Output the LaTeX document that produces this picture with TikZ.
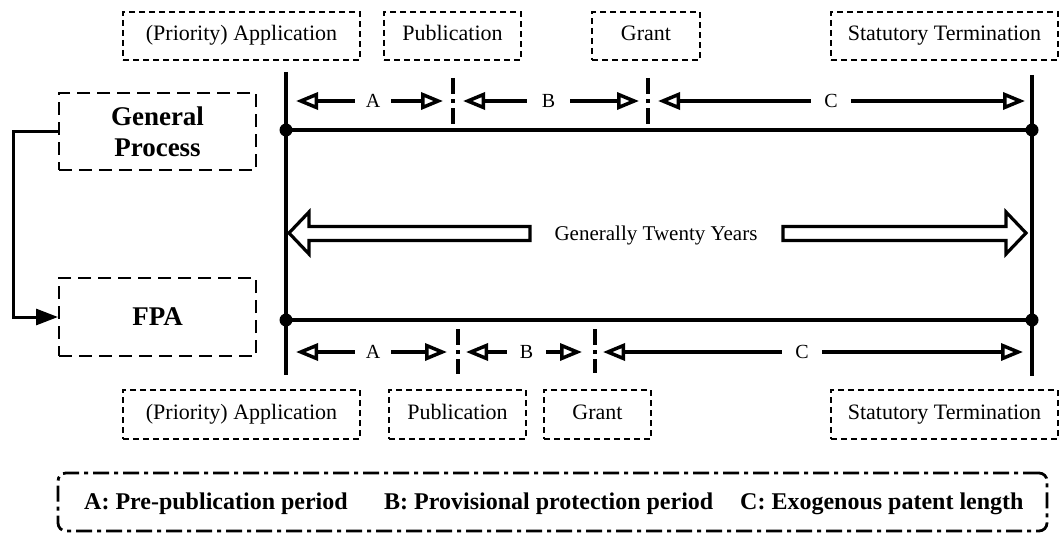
\documentclass[tikz,border=0pt]{standalone}
\usepackage{fontspec}
\setmainfont{Liberation Serif}
\usetikzlibrary{arrows.meta}
\begin{document}
\begin{tikzpicture}[x=1pt,y=-1pt,
  evbox/.style={draw, line width=1.8pt, dash pattern=on 6pt off 4pt, inner sep=0pt, minimum height=48pt, text height=15pt, text depth=5pt, font=\fontsize{22}{26}\selectfont},
  procbox/.style={draw, line width=2pt, dash pattern=on 13pt off 7pt, inner sep=0pt, align=center, minimum width=197pt, font=\bfseries\fontsize{27}{33}\selectfont},
  mainline/.style={line width=3.5pt},
  sepline/.style={line width=3.5pt, dash pattern=on 16pt off 5pt on 4pt off 5pt},
  dimarrow/.style={line width=3.2pt, {Triangle[open,length=22pt,width=17pt,line width=3.5pt]}-{Triangle[open,length=22pt,width=17pt,line width=3.5pt]}},
  dimlabel/.style={fill=white, inner sep=0pt, minimum height=14pt, font=\fontsize{20}{24}\selectfont},
  bigarrow/.style={line width=3.2pt, fill=white, line join=miter},
  dot/.style={circle, fill=black, inner sep=0pt, minimum size=13pt},
  legendbox/.style={draw, line width=2.8pt, dash pattern=on 16pt off 5pt on 4pt off 5pt, rounded corners=8pt, minimum width=989pt, minimum height=58pt, inner sep=0pt},
  legendtext/.style={font=\bfseries\fontsize{24}{28}\selectfont, anchor=west, inner sep=0pt}
]
\useasboundingbox (0,0) rectangle (1060,535);

% top event boxes
\node[evbox, minimum width=237pt] (tApp) at (241.5,36) {(Priority) Application};
\node[evbox, minimum width=137pt] (tPub) at (452.5,36) {Publication};
\node[evbox, minimum width=108pt] (tGrant) at (646,36) {Grant};
\node[evbox, minimum width=227pt] (tStat) at (944.5,36) {Statutory Termination};

% bottom event boxes
\node[evbox, minimum width=237pt, minimum height=49pt] (bApp) at (241.5,414.5) {(Priority) Application};
\node[evbox, minimum width=137pt, minimum height=49pt] (bPub) at (457.5,414.5) {Publication};
\node[evbox, minimum width=107pt, minimum height=49pt] (bGrant) at (597.5,414.5) {Grant};
\node[evbox, minimum width=227pt, minimum height=49pt] (bStat) at (944.5,414.5) {Statutory Termination};

% process boxes
\node[procbox, minimum height=77pt] (gp) at (157.5,131.5) {General\\[-2pt]Process};
\node[procbox, minimum height=78pt] (fpa) at (157.5,317) {FPA};
\draw[line width=3pt, -{Triangle[length=22pt,width=16pt]}] (gp.west |- 0,131) -- (13,131) |- (fpa.west);

% timeline frame
\coordinate (LT) at (286,72);
\coordinate (LB) at (286,375);
\coordinate (RT) at (1032,75);
\coordinate (RB) at (1032,376);
\node[dot] (d1) at (286,130) {};
\node[dot] (d2) at (1032,130) {};
\node[dot] (d3) at (286,320) {};
\node[dot] (d4) at (1032,320) {};
\draw[mainline] (LT) -- (LB);
\draw[mainline] (RT) -- (RB);
\draw[mainline] (d1.center) -- (d2.center);
\draw[mainline] (d3.center) -- (d4.center);

% separators
\coordinate (sAB1) at (453,78);  \coordinate (sAB1e) at (453,130);
\coordinate (sBC1) at (648,78);  \coordinate (sBC1e) at (648,125);
\coordinate (sAB2) at (458,329); \coordinate (sAB2e) at (458,374);
\coordinate (sBC2) at (595,329); \coordinate (sBC2e) at (595,373);
\draw[sepline] (sAB1) -- (sAB1e);
\draw[sepline] (sBC1) -- (sBC1e);
\draw[sepline] (sAB2) -- (sAB2e);
\draw[sepline] (sBC2) -- (sBC2e);

% top dimension arrows
\coordinate (a1s) at (296,101); \coordinate (a1e) at (443,101);
\coordinate (b1s) at (463,101); \coordinate (b1e) at (639,101);
\coordinate (c1s) at (658,101); \coordinate (c1e) at (1025,101);
\draw[dimarrow] (a1s) -- (a1e);
\draw[dimarrow] (b1s) -- (b1e);
\draw[dimarrow] (c1s) -- (c1e);
\node[dimlabel, minimum width=36pt] (la1) at (373,101) {A};
\node[dimlabel, minimum width=43pt] (lb1) at (548.5,101) {B};
\node[dimlabel, minimum width=40pt] (lc1) at (831,101) {C};

% bottom dimension arrows
\coordinate (a2s) at (296,352); \coordinate (a2e) at (447,352);
\coordinate (b2s) at (466,352); \coordinate (b2e) at (582,352);
\coordinate (c2s) at (603,352); \coordinate (c2e) at (1023,352);
\draw[dimarrow] (a2s) -- (a2e);
\draw[dimarrow] (b2s) -- (b2e);
\draw[dimarrow] (c2s) -- (c2e);
\node[dimlabel, minimum width=36pt] (la2) at (373,352) {A};
\node[dimlabel, minimum width=39pt] (lb2) at (526.5,352) {B};
\node[dimlabel, minimum width=40pt] (lc2) at (802,352) {C};

% twenty years
\draw[bigarrow] (289,233) -- (309,212) -- (309,226.5) -- (530,226.5) -- (530,240.5) -- (309,240.5) -- (309,254) -- cycle;
\draw[bigarrow] (1026,233) -- (1006,212) -- (1006,226.5) -- (783,226.5) -- (783,240.5) -- (1006,240.5) -- (1006,254) -- cycle;
\node[font=\fontsize{21}{25}\selectfont, inner sep=0pt] (tw) at (656,235) {Generally Twenty Years};

% legend
\node[legendbox] (legend) at (552.5,502) {};
\node[legendtext] (lgA) at (84,504) {A: Pre-publication period};
\node[legendtext] (lgB) at (384,504) {B: Provisional protection period};
\node[legendtext] (lgC) at (740,504) {C: Exogenous patent length};
\end{tikzpicture}
\end{document}
